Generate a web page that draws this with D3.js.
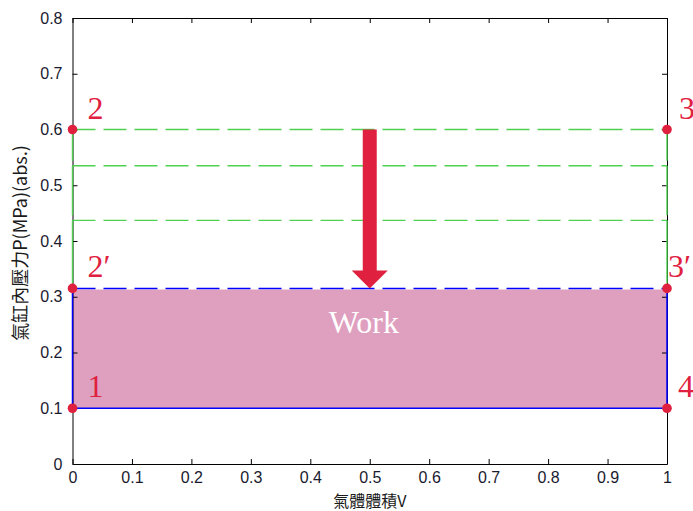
<!DOCTYPE html>
<html>
<head>
<meta charset="utf-8">
<script src="https://cdn.jsdelivr.net/npm/d3@7"></script>
<style>
  html, body { margin: 0; padding: 0; background: #fff; }
  svg { display: block; }
</style>
</head>
<body>
<svg id="chart" width="693" height="511"></svg>
<script>
// Ideal-gas P–V diagram: pressure drop at constant volume and the work region.
const xTicks = [0, 0.1, 0.2, 0.3, 0.4, 0.5, 0.6, 0.7, 0.8, 0.9, 1];
const yTicks = [0, 0.1, 0.2, 0.3, 0.4, 0.5, 0.6, 0.7, 0.8];

// Successive pressure levels (MPa) while the cylinder cools down
const coolingLevels = [0.6, 0.535, 0.437];
// Work rectangle between the low and the final high pressure
const workLow = 0.1;
const workHigh = 0.315;
const volumeRange = [0, 1];

// Arrow showing the pressure falling at V = 0.5
const arrowV = 0.5;
const arrowFrom = 0.6;
const arrowTo = 0.315;

// State points of the cycle
const stateNames = ["2", "3", "2\u2032", "3\u2032", "1", "4"];
const stateV = [0, 1, 0, 1, 0, 1];
const stateP = [0.6, 0.6, 0.315, 0.315, 0.1, 0.1];

const xLabel = "氣體體積V";
const yLabel = "氣缸內壓力P(MPa)(abs.)";
const workText = "Work";

const W = 693, H = 511;
const margin = { left: 72.5, top: 18, right: 26, bottom: 47 };
const iw = W - margin.left - margin.right;
const ih = H - margin.top - margin.bottom;

const RED = "#e0203f", GREEN = "#50d050", BLUE = "#0000ff", FILL = "#dfa0bf";

const svg = d3.select("#chart");
const g = svg.append("g").attr("transform", `translate(${margin.left},${margin.top})`);

const x = d3.scaleLinear().domain([0, 1]).range([0, iw]);
const y = d3.scaleLinear().domain([0, 0.8]).range([ih, 0]);

// Work area (drawn beneath the axes box)
g.append("rect")
  .attr("x", x(volumeRange[0])).attr("y", y(workHigh))
  .attr("width", x(volumeRange[1]) - x(volumeRange[0]))
  .attr("height", y(workLow) - y(workHigh))
  .attr("fill", FILL);

// Axes box with inward ticks on all four sides
const tickLen = 5;
const axisStyle = sel => {
  sel.select(".domain").attr("stroke", "#000").attr("stroke-width", 1);
  sel.selectAll(".tick line").attr("stroke", "#000");
};
const tickText = s => s.selectAll("text")
  .attr("font-family", "Liberation Sans, Arial, sans-serif")
  .attr("font-size", 16).attr("fill", "#1a1a2e");
g.append("g").attr("transform", `translate(0,${ih})`)
  .call(d3.axisBottom(x).tickValues(xTicks).tickFormat(d3.format("~g"))
    .tickSizeInner(-tickLen).tickSizeOuter(0).tickPadding(8))
  .call(axisStyle).call(tickText);
g.append("g")
  .call(d3.axisTop(x).tickValues(xTicks).tickFormat("")
    .tickSizeInner(-tickLen).tickSizeOuter(0))
  .call(axisStyle);
g.append("g")
  .call(d3.axisLeft(y).tickValues(yTicks).tickFormat(d3.format("~g"))
    .tickSizeInner(-tickLen).tickSizeOuter(0).tickPadding(10))
  .call(axisStyle).call(tickText);
g.append("g").attr("transform", `translate(${iw},0)`)
  .call(d3.axisRight(y).tickValues(yTicks).tickFormat("")
    .tickSizeInner(-tickLen).tickSizeOuter(0))
  .call(axisStyle);

// Cooling steps: dashed pressure levels with solid side walls
const levels = coolingLevels.concat([workHigh]);
const gap = 5;
coolingLevels.forEach((p, i) => {
  g.append("line")
    .attr("x1", x(volumeRange[0])).attr("x2", x(volumeRange[1]))
    .attr("y1", y(p)).attr("y2", y(p))
    .attr("stroke", GREEN).attr("stroke-width", 1.4)
    .attr("stroke-dasharray", "23,8");
  volumeRange.forEach(v => {
    g.append("line")
      .attr("x1", x(v)).attr("x2", x(v))
      .attr("y1", y(p)).attr("y2", y(levels[i + 1]) - gap)
      .attr("stroke", GREEN).attr("stroke-width", 1.4);
  });
});

// Blue outline of the work region
g.append("path")
  .attr("d", d3.line()([
    [x(volumeRange[0]), y(workHigh)], [x(volumeRange[0]), y(workLow)],
    [x(volumeRange[1]), y(workLow)], [x(volumeRange[1]), y(workHigh)]
  ]))
  .attr("fill", "none").attr("stroke", BLUE).attr("stroke-width", 1.5);
g.append("line")
  .attr("x1", x(volumeRange[0])).attr("x2", x(volumeRange[1]))
  .attr("y1", y(workHigh)).attr("y2", y(workHigh))
  .attr("stroke", "#fff").attr("stroke-width", 2);
g.append("line")
  .attr("x1", x(volumeRange[0])).attr("x2", x(volumeRange[1]))
  .attr("y1", y(workHigh)).attr("y2", y(workHigh))
  .attr("stroke", BLUE).attr("stroke-width", 1.5)
  .attr("stroke-dasharray", "23,8");

// Pressure-drop arrow
const shaftW = 14, headW = 36, headL = 18;
const ax = x(arrowV), ay0 = y(arrowFrom), ay1 = y(arrowTo);
g.append("path")
  .attr("d", d3.line()([
    [ax - shaftW / 2, ay0], [ax + shaftW / 2, ay0],
    [ax + shaftW / 2, ay1 - headL], [ax + headW / 2, ay1 - headL],
    [ax, ay1], [ax - headW / 2, ay1 - headL],
    [ax - shaftW / 2, ay1 - headL]
  ]) + "Z")
  .attr("fill", RED);

// State points and their names
const labelDx = { "2": 15, "2\u2032": 15, "1": 15, "3": 12, "3\u2032": 1, "4": 11 };
stateNames.forEach((name, i) => {
  const px = x(stateV[i]), py = y(stateP[i]);
  g.append("circle").attr("cx", px).attr("cy", py).attr("r", 4.8).attr("fill", RED);
  g.append("text")
    .attr("x", px + labelDx[name]).attr("y", py - 11)
    .attr("font-family", "Liberation Serif, Times New Roman, serif")
    .attr("font-size", 32).attr("fill", RED)
    .text(name);
});

// Work label
g.append("text")
  .attr("x", x(0.49)).attr("y", y((workLow + workHigh) / 2) - 15)
  .attr("text-anchor", "middle")
  .attr("font-family", "Liberation Serif, Times New Roman, serif")
  .attr("font-size", 32).attr("fill", "#fff")
  .text(workText);

// Axis titles
svg.append("text")
  .attr("x", margin.left + iw / 2).attr("y", 507)
  .attr("text-anchor", "middle")
  .attr("font-family", "Noto Sans CJK TC, sans-serif")
  .attr("font-size", 16).attr("fill", "#1a1a1a")
  .text(xLabel);
svg.append("text")
  .attr("transform", `translate(27,${margin.top + ih / 2 + 2}) rotate(-90)`)
  .attr("text-anchor", "middle")
  .attr("font-family", "Noto Sans CJK TC, sans-serif")
  .attr("font-size", 18).attr("fill", "#1a1a1a")
  .text(yLabel);
</script>
</body>
</html>
